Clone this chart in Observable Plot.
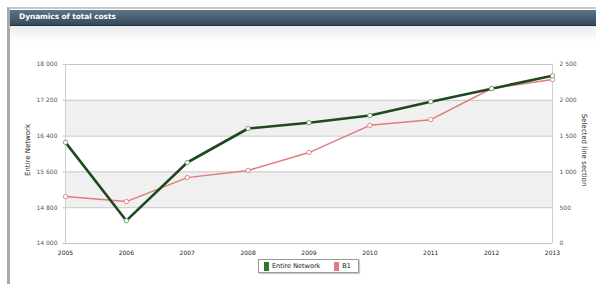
<!DOCTYPE html>
<html>
<head>
<meta charset="utf-8">
<script src="https://cdn.jsdelivr.net/npm/d3@7"></script>
<script src="https://cdn.jsdelivr.net/npm/@observablehq/plot@0.6"></script>
<style>
  html, body { margin: 0; padding: 0; background: #fff; }
  #wrap { position: relative; width: 596px; height: 284px; overflow: hidden; background: #fff; font-family: "DejaVu Sans", Verdana, sans-serif; }
  #frame { position: absolute; left: 7px; top: 7px; width: 600px; height: 290px; border-left: 3px solid #a9a9a9; border-top: 2px solid #c8c8c8; }
  #bar { position: absolute; left: 10px; top: 10px; width: 590px; height: 15px; background: linear-gradient(#5d7386, #34495c); border-bottom: 1px solid #22303c; }
  #bar span { position: absolute; left: 9px; top: 2px; color: #fff; font-size: 7.5px; font-weight: bold; letter-spacing: -0.1px; }
  #sub { position: absolute; left: 10px; top: 26px; width: 590px; height: 16px; background: linear-gradient(#e9ecee, #fff); }
  #chart { position: absolute; left: 0; top: 40px; }
  .ytitle { position: absolute; font-size: 7px; color: #222; white-space: nowrap; }
  #legend { position: absolute; left: 258px; top: 259px; height: 12px; padding: 0 5px; border: 1px solid #9a9a9a; background: #fff; font-size: 6.5px; color: #111; display: flex; align-items: center; box-shadow: 1px 1px 1px #ccc; }
  #legend .sw { display: inline-block; width: 5px; height: 9px; margin-right: 3px; vertical-align: middle; }
  #legend .it { display: flex; align-items: center; margin-right: 14px; }
</style>
</head>
<body>
<div id="wrap">
  <div id="frame"></div>
  <div id="bar"><span>Dynamics of total costs</span></div>
  <div id="sub"></div>
  <div id="chart"></div>
  <div class="ytitle" id="lt" style="left:2px; top:150px; transform: translate(0,-50%) rotate(-90deg); transform-origin: center;">Entire Network</div>
  <div class="ytitle" id="rt" style="left:548px; top:150px; transform: translate(0,-50%) rotate(90deg); transform-origin: center;">Selected line section</div>
  <div id="legend"></div>
</div>
<script>
const years = [2005, 2006, 2007, 2008, 2009, 2010, 2011, 2012, 2013];
const entireNetwork = [16260, 14510, 15810, 16570, 16700, 16860, 17170, 17460, 17750];
const b1 = [655, 585, 920, 1020, 1270, 1650, 1730, 2165, 2290];
const leftTicks = [14000, 14800, 15600, 16400, 17200, 18000];
const rightTicks = [0, 500, 1000, 1500, 2000, 2500];
const seriesNames = ["Entire Network", "B1"];
const seriesColors = ["#1d4a1d", "#e07a7e"];

const L0 = leftTicks[0], L1 = leftTicks[leftTicks.length - 1];
const R0 = rightTicks[0], R1 = rightTicks[rightTicks.length - 1];
const toLeft = v => L0 + (v - R0) / (R1 - R0) * (L1 - L0);
const fmt = v => d3.format(",")(v).replace(/,/g, " ");

const green = years.map((y, i) => ({year: y, v: entireNetwork[i]}));
const red = years.map((y, i) => ({year: y, v: toLeft(b1[i])}));
// shaded bands: every other interval starting from the second from the top
const intervals = leftTicks.slice(0, -1).map((t, i) => ({y1: t, y2: leftTicks[i + 1], k: leftTicks.length - 2 - i}));
const shaded = intervals.filter(d => d.k % 2 === 1);

const plot = Plot.plot({
  width: 596,
  height: 220,
  marginLeft: 65,
  marginRight: 44,
  marginTop: 24,
  marginBottom: 17,
  style: {fontFamily: "DejaVu Sans, Verdana, sans-serif", fontSize: "6px", color: "#555", background: "transparent"},
  x: {domain: [years[0], years[years.length - 1]]},
  y: {domain: [L0, L1]},
  marks: [
    Plot.rect(shaded, {x1: years[0], x2: years[years.length - 1], y1: "y1", y2: "y2", fill: "#f0f0f0"}),
    Plot.ruleY(leftTicks, {x1: years[0] - 0.04, x2: years[years.length - 1], stroke: "#c6c6c6", strokeWidth: 1}),
    Plot.ruleX([years[0], years[years.length - 1]], {stroke: "#cfcfcf", strokeWidth: 1}),
    Plot.axisY({ticks: leftTicks, tickFormat: fmt, tickSize: 0, tickPadding: 8, label: null, fill: "#555"}),
    Plot.axisY(rightTicks.map(toLeft), {anchor: "right", tickFormat: (d, i) => fmt(rightTicks[i]), tickSize: 0, tickPadding: 7, label: null, fill: "#555"}),
    Plot.axisX({ticks: years, tickFormat: d => String(d), tickSize: 0, tickPadding: 7, label: null, fill: "#222"}),
    Plot.line(red, {x: "year", y: "v", stroke: seriesColors[1], strokeWidth: 1.5}),
    Plot.line(green, {x: "year", y: "v", stroke: seriesColors[0], strokeWidth: 2.6}),
    Plot.dot(red, {x: "year", y: "v", r: 2.2, fill: "#fff", stroke: seriesColors[1], strokeWidth: 0.9}),
    Plot.dot(green, {x: "year", y: "v", r: 2.2, fill: "#fff", stroke: "#6a9a6a", strokeWidth: 0.9})
  ]
});
document.getElementById("chart").appendChild(plot);

const lg = document.getElementById("legend");
seriesNames.forEach((n, i) => {
  const it = document.createElement("span");
  it.className = "it";
  if (i === seriesNames.length - 1) it.style.marginRight = "2px";
  it.innerHTML = `<span class="sw" style="background:${i === 0 ? "#2a7a2a" : seriesColors[1]}"></span>${n}`;
  lg.appendChild(it);
});
</script>
</body>
</html>
